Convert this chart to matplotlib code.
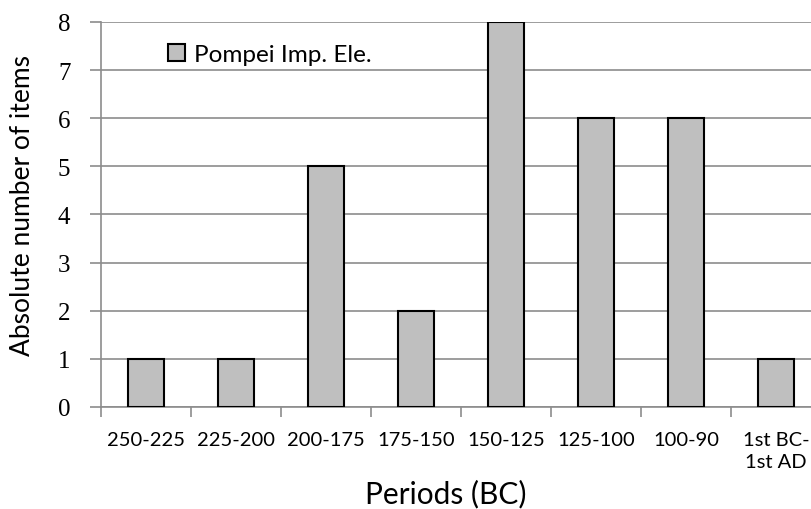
import numpy as np
import matplotlib.pyplot as plt

# Data
periods = ['250-225', '225-200', '200-175', '175-150', '150-125',
           '125-100', '100-90', '1st BC-\n1st AD']
counts = [1, 1, 5, 2, 8, 6, 6, 1]
series_name = 'Pompei Imp. Ele.'

fig = plt.figure(figsize=(8.11, 5.10), dpi=100)
ax = fig.add_axes([0.1245, 0.2, 0.888, 0.755])

x = np.arange(len(periods))
ax.bar(x, counts, width=0.4, color='#BFBFBF', edgecolor='black',
       linewidth=1.5, label=series_name, zorder=3)

ax.set_xlim(-0.5, len(periods) - 0.5)
ax.set_ylim(0, 8)
ax.set_yticks(range(0, 9))
ax.yaxis.grid(True, color='#8c8c8c', linewidth=1.2, zorder=0)

for s in ['top', 'right']:
    ax.spines[s].set_visible(False)
ax.spines['left'].set_color('#8c8c8c')
ax.spines['bottom'].set_color('#8c8c8c')
ax.spines['left'].set_linewidth(1.2)
ax.spines['bottom'].set_linewidth(1.2)

# y ticks: serif numbers
ax.tick_params(axis='y', length=8, width=1.2, color='#8c8c8c', pad=14,
               labelsize=18, labelfontfamily='Liberation Serif')

# x ticks at category boundaries, labels at centres
ax.set_xticks(np.arange(-0.5, len(periods) - 0.5, 1.0))
ax.set_xticklabels([])
ax.set_xticks(x, minor=True)
ax.set_xticklabels(periods, minor=True, fontfamily='Lato', fontsize=14.5,
                   linespacing=1.4)
ax.tick_params(axis='x', which='major', length=7, width=1.2, color='#8c8c8c')
ax.tick_params(axis='x', which='minor', length=0, pad=17)

fig.text(0.028, 0.598, 'Absolute number of items', rotation=90,
         ha='center', va='center', fontfamily='Lato', fontsize=19)
fig.text(0.55, 0.012, 'Periods (BC)', ha='center', fontfamily='Lato',
         fontsize=21.5)

leg = ax.legend(loc='upper left', bbox_to_anchor=(0.063, 1.0), frameon=False,
                prop={'family': 'Lato', 'size': 17.5}, handlelength=0.7,
                handleheight=0.7, handletextpad=0.35)

fig.savefig('out.png', dpi=100)
